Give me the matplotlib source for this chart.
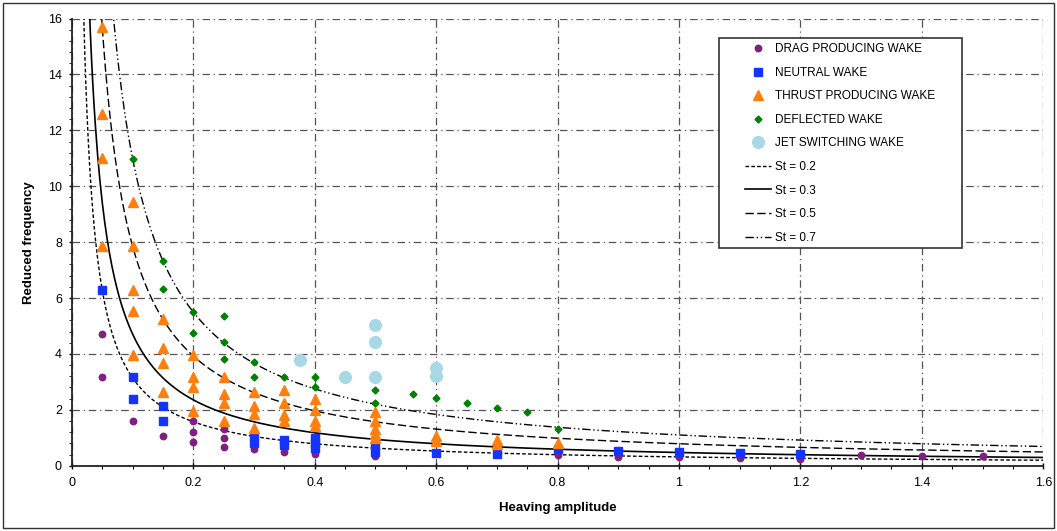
import numpy as np
import matplotlib
matplotlib.use("Agg")
import matplotlib.pyplot as plt
from matplotlib.patches import Rectangle

plt.rcParams['font.family'] = ['Liberation Sans', 'DejaVu Sans']

# ---- data ----
drag_x = [0.05, 0.05, 0.1, 0.15, 0.2, 0.2, 0.2, 0.25, 0.25, 0.25, 0.3, 0.35, 0.4, 0.5,
          0.8, 0.9, 1.0, 1.1, 1.2, 1.3, 1.4, 1.5]
drag_y = [4.71, 3.16, 1.59, 1.08, 1.6, 1.21, 0.83, 1.3, 0.98, 0.67, 0.6, 0.5, 0.42, 0.33,
          0.37, 0.32, 0.3, 0.26, 0.24, 0.39, 0.36, 0.33]

neutral_x = [0.05, 0.1, 0.1, 0.15, 0.15, 0.3, 0.3, 0.35, 0.35, 0.4, 0.4, 0.4,
             0.5, 0.5, 0.6, 0.7, 0.8, 0.9, 1.0, 1.1, 1.2]
neutral_y = [6.3, 3.16, 2.38, 2.14, 1.61, 1.08, 0.82, 0.92, 0.73, 1.0, 0.82, 0.64,
             0.73, 0.5, 0.47, 0.42, 0.61, 0.54, 0.5, 0.45, 0.42]

thrust_x = [0.05, 0.05, 0.05, 0.05,
            0.1, 0.1, 0.1, 0.1, 0.1,
            0.15, 0.15, 0.15, 0.15,
            0.2, 0.2, 0.2, 0.2,
            0.25, 0.25, 0.25, 0.25,
            0.3, 0.3, 0.3, 0.3,
            0.35, 0.35, 0.35, 0.35,
            0.4, 0.4, 0.4, 0.4,
            0.5, 0.5, 0.5, 0.5, 0.5,
            0.6, 0.6,
            0.7, 0.7,
            0.8]
thrust_y = [15.7, 12.57, 11.0, 7.86,
            9.43, 7.86, 6.3, 5.52, 3.95,
            5.24, 4.2, 3.68, 2.64,
            3.95, 3.17, 2.8, 1.97,
            3.17, 2.55, 2.24, 1.61,
            2.64, 2.12, 1.86, 1.36,
            2.71, 2.26, 1.83, 1.6,
            2.38, 2.0, 1.61, 1.41,
            1.93, 1.61, 1.31, 1.13, 0.98,
            1.08, 0.9,
            0.93, 0.76,
            0.81]

deflected_x = [0.1, 0.15, 0.15, 0.2, 0.2, 0.25, 0.25, 0.25, 0.3, 0.3, 0.35,
               0.4, 0.4, 0.5, 0.5, 0.5625, 0.6, 0.65, 0.7, 0.75, 0.8]
deflected_y = [10.99, 7.33, 6.31, 5.51, 4.74, 5.37, 4.43, 3.81, 3.7, 3.19, 3.19,
               3.19, 2.8, 2.71, 2.26, 2.55, 2.41, 2.24, 2.07, 1.93, 1.31]

jet_x = [0.375, 0.45, 0.5, 0.5, 0.5, 0.6, 0.6]
jet_y = [3.79, 3.19, 5.04, 4.42, 3.19, 3.49, 3.2]

st_values = [0.2, 0.3, 0.5, 0.7]
st_labels = ['St = 0.2', 'St = 0.3', 'St = 0.5', 'St = 0.7']
st_dashes = [(2.6, 1.6), (), (6, 2.5), (6, 2, 1, 2, 1, 2)]

series_labels = ['DRAG PRODUCING WAKE', 'NEUTRAL WAKE', 'THRUST PRODUCING WAKE',
                 'DEFLECTED WAKE', 'JET SWITCHING WAKE']

x_ticks = [0, 0.2, 0.4, 0.6, 0.8, 1, 1.2, 1.4, 1.6]
x_ticklabels = ['0', '0.2', '0.4', '0.6', '0.8', '1', '1.2', '1.4', '1.6']
y_ticks = [0, 2, 4, 6, 8, 10, 12, 14, 16]

# ---- figure ----
fig = plt.figure(figsize=(10.57, 5.31), dpi=100)
ax = fig.add_axes([0.068, 0.123, 0.919, 0.842])

fig.patches.append(Rectangle((0.003, 0.005), 0.994, 0.99, transform=fig.transFigure,
                             fill=False, edgecolor='#333333', linewidth=1.0))

# Strouhal curves: k = pi*St/(2h)
for st, lab, ds in zip(st_values, st_labels, st_dashes):
    h0 = np.pi * st / (2 * 16.5)
    h = np.linspace(h0, 1.6, 800)
    k = np.pi * st / (2 * h)
    line, = ax.plot(h, k, color='black', linewidth=1.0 if ds else 1.2, label=lab, zorder=3)
    if ds:
        line.set_dashes(ds)

ax.plot(drag_x, drag_y, 'o', color='#7F1F7F', markersize=4.6, linestyle='none',
        label=series_labels[0], zorder=4)
ax.plot(neutral_x, neutral_y, 's', color='#1433FF', markersize=5.6, linestyle='none',
        label=series_labels[1], zorder=4)
ax.plot(thrust_x, thrust_y, '^', color='#FF7F0E', markersize=7.0, linestyle='none',
        label=series_labels[2], zorder=4)
ax.plot(deflected_x, deflected_y, 'D', color='#008000', markersize=3.5, linestyle='none',
        label=series_labels[3], zorder=4)
ax.plot(jet_x, jet_y, 'o', color='#A8D8E6', markersize=8.4, linestyle='none',
        label=series_labels[4], zorder=4)

ax.set_xlim(0, 1.6)
ax.set_ylim(0, 16)
ax.set_xticks(x_ticks)
ax.set_xticklabels(x_ticklabels)
ax.set_yticks(y_ticks)
ax.set_xticks(np.arange(0, 1.6001, 0.05), minor=True)
ax.set_yticks(np.arange(0, 16.001, 0.4), minor=True)

for s in ['top', 'right']:
    ax.spines[s].set_visible(False)
for s in ['left', 'bottom']:
    ax.spines[s].set_linewidth(1.3)
    ax.spines[s].set_color('#222222')

ax.tick_params(axis='x', which='major', direction='inout', length=4, width=1, labelsize=9, pad=6.3)
ax.tick_params(axis='x', which='minor', direction='out', length=2.5, width=0.8)
ax.tick_params(axis='y', which='major', direction='out', length=2.5, width=1, labelsize=9, pad=4.7)
ax.tick_params(axis='y', which='minor', direction='out', length=2.2, width=0.6)

ax.grid(True, which='major', color='#555555', linewidth=0.9, dashes=(6, 3, 1, 3))
ax.set_axisbelow(True)

ax.set_xlabel('Heaving amplitude', fontsize=9.5, fontweight='bold', labelpad=9)
ax.set_ylabel('Reduced frequency', fontsize=9.5, fontweight='bold', labelpad=9)

# legend box + entries
handles, labels = ax.get_legend_handles_labels()
order = [4, 5, 6, 7, 8, 0, 1, 2, 3]
ax.add_patch(Rectangle((0.666, 0.488), 0.2505, 0.469, transform=ax.transAxes,
                       facecolor='white', edgecolor='#333333', linewidth=1.2,
                       zorder=6, clip_on=False))
leg = ax.legend([handles[i] for i in order], [labels[i] for i in order],
                loc='upper left', bbox_to_anchor=(0.693, 0.945), frameon=False,
                fontsize=8.5, labelspacing=0.98, handlelength=2.2, handletextpad=0.35,
                borderpad=0, borderaxespad=0, numpoints=1)
leg.set_zorder(7)

fig.savefig('out.png', dpi=100)
